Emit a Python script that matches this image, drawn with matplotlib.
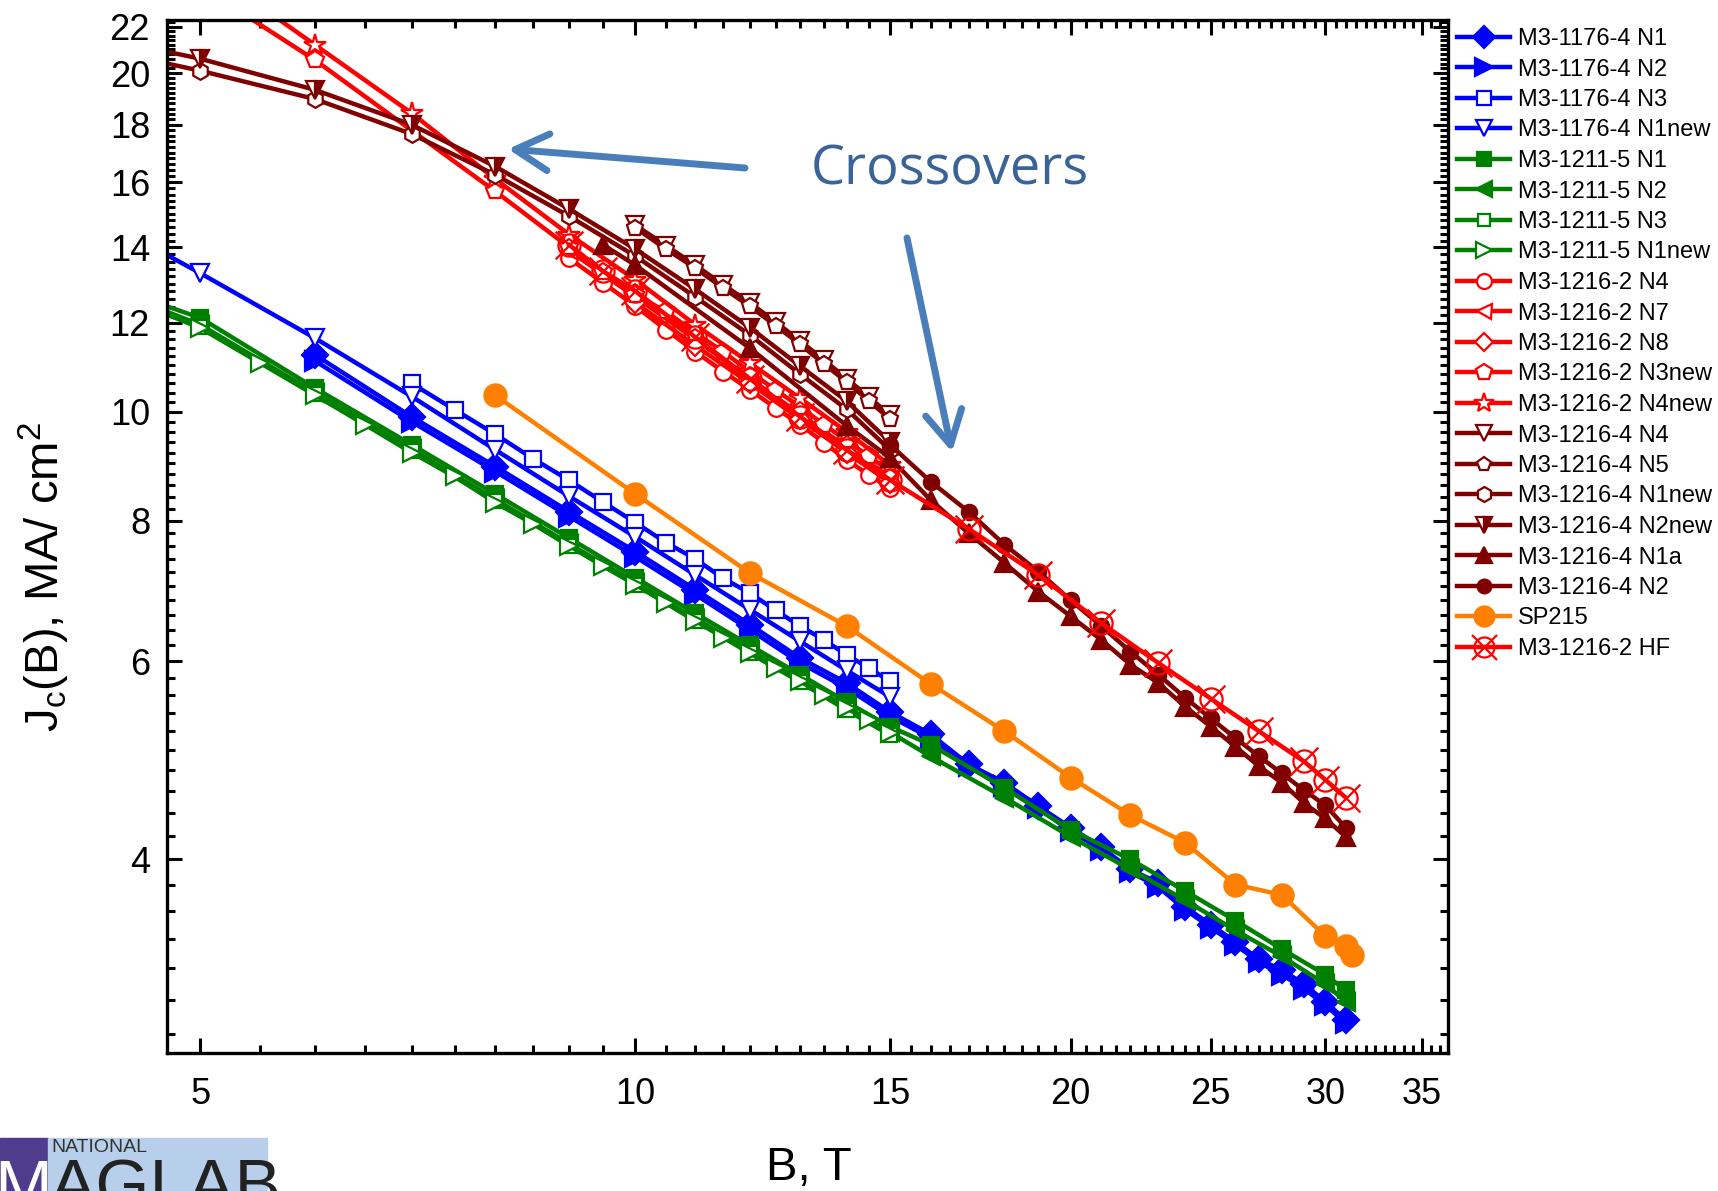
import numpy as np
import matplotlib.pyplot as plt
from matplotlib.path import Path
from matplotlib.ticker import FixedLocator, FixedFormatter, NullFormatter
from matplotlib.patches import Rectangle

plt.rcParams['font.family'] = ['Liberation Sans', 'DejaVu Sans']

# ---- data (B in T, Jc in MA/cm^2) ----
b1176_n1_x = [6, 7, 8, 9, 10, 11, 12, 13, 14, 15, 16, 17, 18, 19, 20, 21, 22, 23, 24, 25, 26, 27, 28, 29, 30, 31]
b1176_n1_y = [11.24, 9.9, 8.94, 8.15, 7.51, 6.95, 6.47, 6.04, 5.74, 5.41, 5.17, 4.86, 4.68, 4.46, 4.27, 4.10,
              3.92, 3.81, 3.63, 3.50, 3.38, 3.26, 3.19, 3.10, 2.99, 2.88]
b1176_n2_x = b1176_n1_x
b1176_n2_y = [11.1, 9.8, 8.85, 8.07, 7.43, 6.88, 6.40, 5.98, 5.68, 5.36, 5.13, 4.84, 4.65, 4.44, 4.24, 4.08,
              3.90, 3.78, 3.61, 3.48, 3.36, 3.24, 3.16, 3.07, 2.97, 2.86]
b1176_n3_x = [7, 7.5, 8, 8.5, 9, 9.5, 10, 10.5, 11, 11.5, 12, 12.5, 13, 13.5, 14, 14.5, 15]
b1176_n3_y = [10.6, 10.04, 9.55, 9.08, 8.69, 8.31, 7.97, 7.65, 7.4, 7.11, 6.90, 6.66, 6.45, 6.27, 6.08, 5.92, 5.76]
b1176_n1new_x = [4.5, 5, 6, 7, 8, 9, 10, 11, 12, 13, 14, 15]
b1176_n1new_y = [14.3, 13.28, 11.63, 10.32, 9.25, 8.41, 7.74, 7.16, 6.67, 6.25, 5.89, 5.58]

g1211_n1_x = [4.5, 5, 6, 7, 8, 9, 10, 11, 12, 13, 14, 15, 16, 18, 20, 22, 24, 26, 28, 30, 31]
g1211_n1_y = [12.7, 12.12, 10.5, 9.35, 8.45, 7.72, 7.12, 6.62, 6.2, 5.84, 5.52, 5.25, 5.06, 4.63, 4.25, 4.0,
              3.75, 3.53, 3.33, 3.16, 3.06]
g1211_n2_x = g1211_n1_x
g1211_n2_y = [12.6, 11.95, 10.4, 9.26, 8.36, 7.63, 7.05, 6.55, 6.14, 5.78, 5.46, 5.19, 4.94, 4.54, 4.19, 3.92,
              3.68, 3.46, 3.28, 3.10, 2.99]
g1211_n3_x = [4.5, 5, 6, 7, 8, 9, 10, 11, 12, 13, 14, 15]
g1211_n3_y = [12.5, 11.9, 10.38, 9.22, 8.33, 7.6, 7.02, 6.52, 6.11, 5.75, 5.43, 5.16]
g1211_n1new_x = [4.5, 5, 5.5, 6, 6.5, 7, 7.5, 8, 8.5, 9, 9.5, 10, 10.5, 11, 11.5, 12, 12.5, 13, 13.5, 14, 14.5, 15]
g1211_n1new_y = [12.55, 11.87, 11.05, 10.35, 9.74, 9.2, 8.76, 8.3, 7.95, 7.6, 7.29, 7.02, 6.76, 6.52, 6.3, 6.1,
                 5.92, 5.76, 5.6, 5.45, 5.32, 5.18]

r1216_n4_x = [9, 9.5, 10, 10.5, 11, 11.5, 12, 12.5, 13, 13.5, 14, 14.5, 15]
r1216_n4_y = [13.69, 13.02, 12.41, 11.83, 11.31, 10.86, 10.46, 10.08, 9.74, 9.39, 9.06, 8.79, 8.55]
r1216_n7_x = [9, 10, 11, 12, 13, 14, 15]
r1216_n7_y = [13.9, 12.65, 11.6, 10.7, 9.95, 9.3, 8.75]
r1216_n8_x = [10, 11, 12, 13, 14, 15]
r1216_n8_y = [12.5, 11.45, 10.6, 9.85, 9.2, 8.65]
r1216_n3new_x = [5, 6, 8, 9, 9.5, 10, 10.5, 11, 11.5, 12, 12.5, 13, 13.5, 14, 14.5, 15]
r1216_n3new_y = [23.9, 20.55, 15.7, 14.0, 13.3, 12.7, 12.28, 11.75, 11.31, 10.85, 10.46, 10.1, 9.74, 9.43, 9.13, 8.85]
r1216_n4new_x = [5, 6, 7, 8, 9, 10, 11, 12, 13, 14, 15]
r1216_n4new_y = [25.0, 21.2, 18.43, 16.1, 14.37, 13.1, 11.95, 11.05, 10.28, 9.6, 8.96]

d1216_n4_x = [10, 10.5, 11, 11.5, 12, 12.5, 13, 13.5, 14, 14.5, 15]
d1216_n4_y = [14.65, 14.05, 13.5, 12.97, 12.5, 12.02, 11.56, 11.12, 10.7, 10.31, 9.93]
d1216_n5_x = d1216_n4_x
d1216_n5_y = [14.57, 13.95, 13.42, 12.88, 12.41, 11.93, 11.48, 11.03, 10.63, 10.23, 9.85]
d1216_n1new_x = [4.5, 5, 6, 7, 8, 9, 10, 11, 12, 13, 14, 15]
d1216_n1new_y = [20.7, 20.1, 18.97, 17.66, 16.24, 14.92, 13.75, 12.65, 11.7, 10.8, 10.05, 9.25]
d1216_n2new_x = d1216_n1new_x
d1216_n2new_y = [21.2, 20.6, 19.33, 18.0, 16.52, 15.14, 13.95, 12.85, 11.88, 10.98, 10.22, 9.40]
d1216_n1a_x = [9.5, 10, 12, 14, 15, 16, 17, 18, 19, 20, 21, 22, 23, 24, 25, 26, 27, 28, 29, 30, 31]
d1216_n1a_y = [14.07, 13.5, 11.39, 9.72, 9.1, 8.35, 7.8, 7.34, 6.92, 6.58, 6.27, 5.96, 5.74, 5.47, 5.25, 5.04,
               4.84, 4.68, 4.49, 4.35, 4.19]
d1216_n2_x = [15, 16, 17, 18, 19, 20, 21, 22, 23, 24, 25, 26, 27, 28, 29, 30, 31]
d1216_n2_y = [9.35, 8.67, 8.15, 7.62, 7.21, 6.80, 6.45, 6.12, 5.84, 5.57, 5.34, 5.13, 4.94, 4.77, 4.61, 4.47, 4.27]

sp215_x = [8, 10, 12, 14, 16, 18, 20, 22, 24, 26, 28, 30, 31, 31.3]
sp215_y = [10.34, 8.45, 7.19, 6.45, 5.73, 5.20, 4.73, 4.38, 4.14, 3.80, 3.72, 3.42, 3.35, 3.29]

hf_x = [9, 9.5, 10, 11, 12, 13, 14, 15, 17, 19, 21, 23, 25, 27, 29, 30, 31]
hf_y = [14.07, 13.33, 12.8, 11.65, 10.7, 9.9, 9.25, 8.7, 7.87, 7.16, 6.49, 5.98, 5.56, 5.20, 4.89, 4.71, 4.54]

x_major = [5, 10, 15, 20, 25, 30, 35]
y_major = [4, 6, 8, 10, 12, 14, 16, 18, 20, 22]

BLUE, GREEN, RED, DRED, ORANGE = '#0000ff', '#008000', '#ff0000', '#800000', '#ff8000'

# circle with a cross through it
hf_marker = Path.make_compound_path(
    Path.unit_circle(),
    Path([(-1.25, -1.25), (1.25, 1.25), (-1.25, 1.25), (1.25, -1.25)],
         [Path.MOVETO, Path.LINETO, Path.MOVETO, Path.LINETO]))

W = 1718
H = 1191
fig = plt.figure(figsize=(W / 100, H / 100), dpi=100)
ax = fig.add_axes([166.7 / W, 1 - 1053.3 / H, (1448.3 - 166.7) / W, (1053.3 - 20) / H])

lw = 3.2
series = [
    (b1176_n1_x, b1176_n1_y, 'M3-1176-4 N1', BLUE, dict(marker='D', ms=13)),
    (b1176_n2_x, b1176_n2_y, 'M3-1176-4 N2', BLUE, dict(marker='>', ms=14)),
    (b1176_n3_x, b1176_n3_y, 'M3-1176-4 N3', BLUE, dict(marker='s', ms=11, mfc='white')),
    (b1176_n1new_x, b1176_n1new_y, 'M3-1176-4 N1new', BLUE, dict(marker='v', ms=13, mfc='white')),
    (g1211_n1_x, g1211_n1_y, 'M3-1211-5 N1', GREEN, dict(marker='s', ms=11)),
    (g1211_n2_x, g1211_n2_y, 'M3-1211-5 N2', GREEN, dict(marker='<', ms=13)),
    (g1211_n3_x, g1211_n3_y, 'M3-1211-5 N3', GREEN, dict(marker='s', ms=10, mfc='white')),
    (g1211_n1new_x, g1211_n1new_y, 'M3-1211-5 N1new', GREEN, dict(marker='>', ms=13, mfc='white')),
    (r1216_n4_x, r1216_n4_y, 'M3-1216-2 N4', RED, dict(marker='o', ms=12, mfc='white')),
    (r1216_n7_x, r1216_n7_y, 'M3-1216-2 N7', RED, dict(marker='<', ms=12, mfc='white')),
    (r1216_n8_x, r1216_n8_y, 'M3-1216-2 N8', RED, dict(marker='D', ms=10, mfc='white')),
    (r1216_n3new_x, r1216_n3new_y, 'M3-1216-2 N3new', RED, dict(marker='p', ms=13, mfc='white')),
    (r1216_n4new_x, r1216_n4new_y, 'M3-1216-2 N4new', RED, dict(marker='*', ms=16, mfc='white')),
    (d1216_n4_x, d1216_n4_y, 'M3-1216-4 N4', DRED, dict(marker='v', ms=13, mfc='white')),
    (d1216_n5_x, d1216_n5_y, 'M3-1216-4 N5', DRED, dict(marker='p', ms=12, mfc='white')),
    (d1216_n1new_x, d1216_n1new_y, 'M3-1216-4 N1new', DRED, dict(marker='h', ms=12, mfc='white')),
    (d1216_n2new_x, d1216_n2new_y, 'M3-1216-4 N2new', DRED,
     dict(marker='v', ms=13, fillstyle='right', markerfacecoloralt='white')),
    (d1216_n1a_x, d1216_n1a_y, 'M3-1216-4 N1a', DRED, dict(marker='^', ms=13)),
    (d1216_n2_x, d1216_n2_y, 'M3-1216-4 N2', DRED, dict(marker='o', ms=11)),
    (sp215_x, sp215_y, 'SP215', ORANGE, dict(marker='o', ms=16)),
    (hf_x, hf_y, 'M3-1216-2 HF', RED, dict(marker=hf_marker, ms=20, mfc='none')),
]

for x, y, label, c, kw in series:
    kw.setdefault('mfc', c)
    ax.plot(x, y, color=c, lw=lw, mec=c, mew=1.6, label=label, **kw)

ax.set_xscale('log')
ax.set_yscale('log')
ax.set_xlim(4.739, 36.5)
ax.set_ylim(2.69, 22.3)

ax.xaxis.set_major_locator(FixedLocator(x_major))
ax.xaxis.set_major_formatter(FixedFormatter([str(v) for v in x_major]))
ax.xaxis.set_minor_locator(FixedLocator(np.arange(4.5, 36.6, 0.5)))
ax.xaxis.set_minor_formatter(NullFormatter())
ax.yaxis.set_major_locator(FixedLocator(y_major))
ax.yaxis.set_major_formatter(FixedFormatter([str(v) for v in y_major]))
ax.yaxis.set_minor_locator(FixedLocator(np.arange(2.6, 22.4, 0.2)))
ax.yaxis.set_minor_formatter(NullFormatter())

ax.tick_params(which='both', direction='in', top=True, right=True, width=2.2)
ax.tick_params(which='major', length=11, labelsize=26)
ax.tick_params(which='minor', length=5.5)
ax.tick_params(axis='x', which='major', pad=17)
ax.tick_params(axis='y', which='major', pad=12)
for s in ax.spines.values():
    s.set_linewidth(2.4)

fig.text(44 / W, 1 - 577 / H, 'J$_\\mathregular{c}$(B), MA/ cm$^\\mathregular{2}$', rotation=90,
         ha='center', va='center', fontsize=34)
fig.text(809 / W, 1 - 1168 / H, 'B, T', ha='center', va='center', fontsize=34)

ax.legend(loc='upper left', bbox_to_anchor=(1457 / W, 1 - 28 / H), bbox_transform=fig.transFigure,
          frameon=False, fontsize=17, labelspacing=0.36, handlelength=2.25, handletextpad=0.35,
          borderpad=0, borderaxespad=0, numpoints=1, markerscale=0.9)

# annotation
fig.text(950 / W, 1 - 170 / H, 'Crossovers', ha='center', va='center', fontsize=39,
         color='#3a6397', family=['Open Sans', 'DejaVu Sans'])
arrow_kw = dict(arrowstyle='->,head_length=0.6,head_width=0.33', lw=5, color='#4a7ebb',
                mutation_scale=40, shrinkA=0, shrinkB=0)
ax.annotate('', xy=(508, H - 149), xytext=(745, H - 168), xycoords='figure pixels',
            textcoords='figure pixels', arrowprops=arrow_kw, annotation_clip=False)
ax.annotate('', xy=(952, H - 452), xytext=(907, H - 238), xycoords='figure pixels',
            textcoords='figure pixels', arrowprops=arrow_kw, annotation_clip=False)

# MagLab logo strip at the bottom left (cropped by the figure edge, as in the original)
fig.patches.append(Rectangle((0, 0), 48 / W, (H - 1138) / H, transform=fig.transFigure,
                             color='#4f3c8c', zorder=0))
fig.patches.append(Rectangle((48 / W, 0), (267 - 48) / W, (H - 1138) / H, transform=fig.transFigure,
                             color='#b8cfeb', zorder=0))
fig.text(51 / W, 1 - 1148 / H, 'NATIONAL', fontsize=14, va='center', ha='left', color='#333333')
fig.text(-6 / W, 1 - 1158 / H, 'M', fontsize=50, va='top', ha='left', color='white')
fig.text(50 / W, 1 - 1158 / H, 'AGLAB', fontsize=50, va='top', ha='left', color='#222222')

fig.savefig('out.png', dpi=100)
